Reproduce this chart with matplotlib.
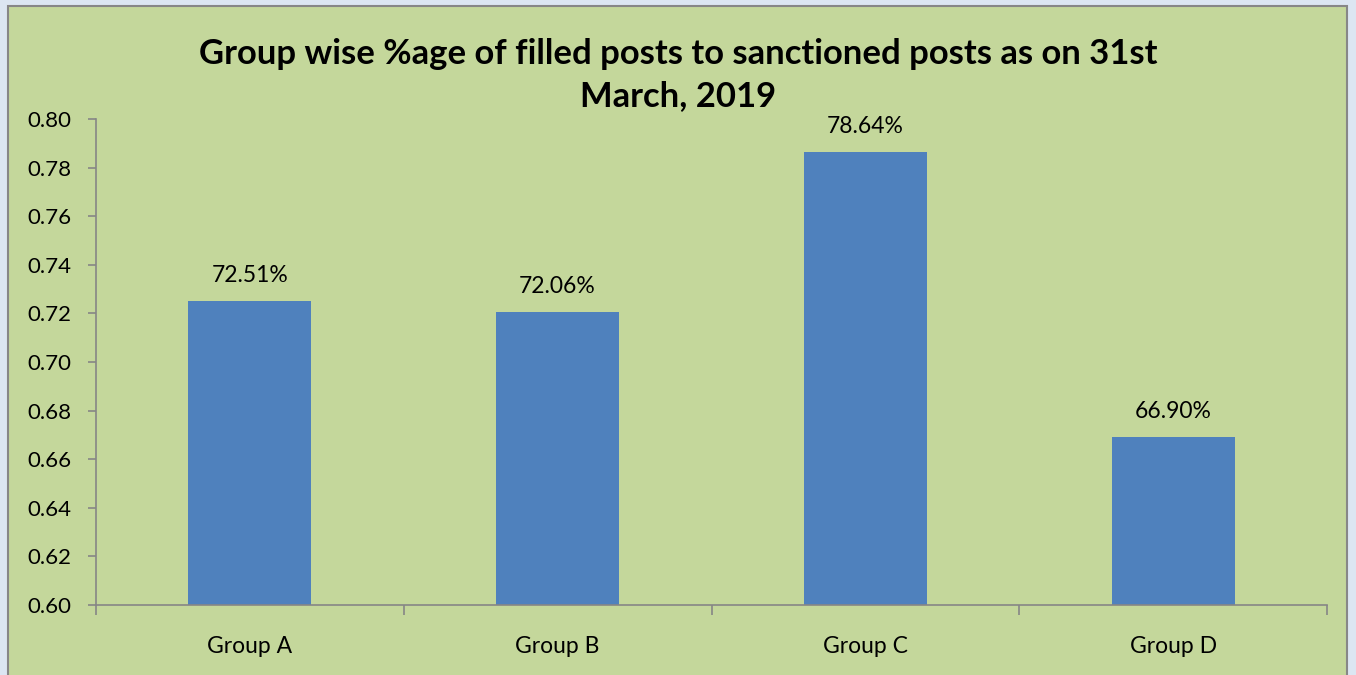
import matplotlib.pyplot as plt
from matplotlib.patches import Rectangle
from matplotlib.ticker import FixedLocator
import numpy as np

groups = ['Group A', 'Group B', 'Group C', 'Group D']
filled_ratio = [0.7251, 0.7206, 0.7864, 0.6690]
yticks = [0.60, 0.62, 0.64, 0.66, 0.68, 0.70, 0.72, 0.74, 0.76, 0.78, 0.80]

plt.rcParams['font.family'] = ['Lato', 'DejaVu Sans']

fig = plt.figure(figsize=(13.56, 6.75), dpi=100)
fig.patch.set_facecolor('#dce6f2')
# green panel with grey border, kept behind the axes
panel = Rectangle((8 / 1356, -0.05), 1339 / 1356, 1.05 - 6 / 675,
                  transform=fig.transFigure, facecolor='#c4d79b',
                  edgecolor='#878787', linewidth=1.5)
panel.set_zorder(-10)
fig.add_artist(panel)

ax = fig.add_axes([96 / 1356, 70 / 675, 1231 / 1356, 486 / 675])
ax.set_facecolor('none')
ax.set_zorder(1)

x = np.arange(len(groups))
ax.bar(x, filled_ratio, width=0.4, color='#4f81bd', zorder=2)
for xi, v in zip(x, filled_ratio):
    ax.annotate(f'{v * 100:.2f}%', (xi, v), xytext=(0, 11), textcoords='offset points',
                ha='center', va='bottom', fontsize=16.5)

ax.set_xlim(-0.5, len(groups) - 0.5)
ax.set_ylim(0.60, 0.80)
ax.set_yticks(yticks)
ax.set_yticklabels([f'{t:.2f}' for t in yticks], fontsize=16)
ax.set_xticks(x)
ax.set_xticklabels(groups, fontsize=16.5)
ax.xaxis.set_minor_locator(FixedLocator(np.arange(-0.5, len(groups), 1.0)))
ax.tick_params(axis='x', which='major', length=0, pad=22)
ax.tick_params(axis='x', which='minor', length=7, color='#868686', width=1.2)
ax.tick_params(axis='y', length=6, color='#868686', width=1.2, pad=12)

for s in ['top', 'right']:
    ax.spines[s].set_visible(False)
for s in ['left', 'bottom']:
    ax.spines[s].set_color('#868686')
    ax.spines[s].set_linewidth(1.2)

fig.text(678 / 1356, 1 - 75 / 675,
         'Group wise %age of filled posts to sanctioned posts as on 31st\nMarch, 2019',
         ha='center', va='center', fontsize=24.9, fontweight='bold', linespacing=1.36)

fig.savefig('out.png', dpi=100, facecolor=fig.get_facecolor())
